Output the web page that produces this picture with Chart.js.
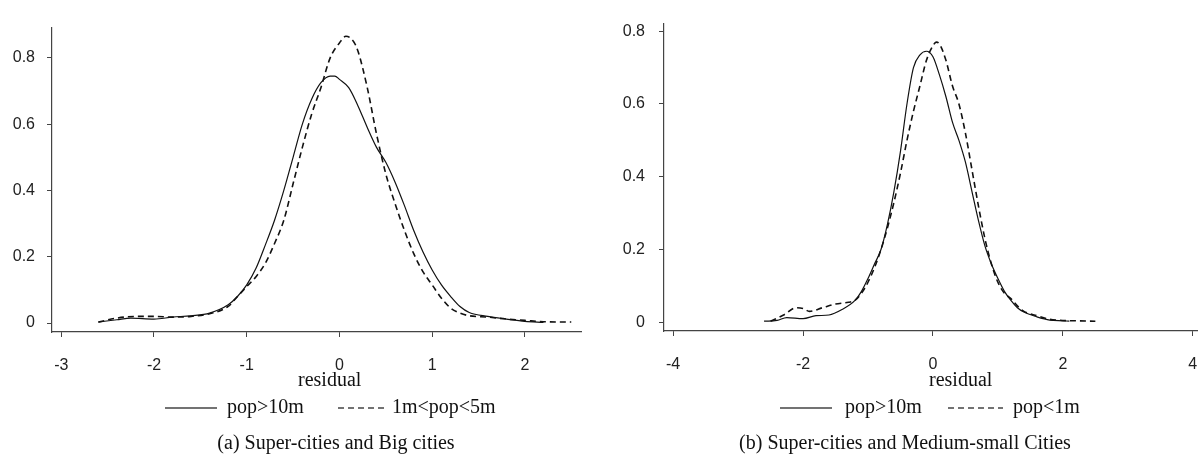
<!DOCTYPE html>
<html>
<head>
<meta charset="utf-8">
<script src="https://cdn.jsdelivr.net/npm/chart.js@4/dist/chart.umd.min.js"></script>
<style>
  html, body { margin: 0; padding: 0; background: #fff; }
  #wrap { position: relative; width: 1198px; height: 458px; overflow: hidden; }
  .panel { position: absolute; top: 0; height: 458px; }
</style>
</head>
<body>
<div id="wrap">
  <div class="panel" style="left:0;width:600px"><canvas id="chartA"></canvas></div>
  <div class="panel" style="left:600px;width:598px"><canvas id="chartB"></canvas></div>
</div>
<script>
// ---- data: panel (a) ----
const aSolidX = [-2.6, -2.4, -2.25, -2.0, -1.8, -1.6, -1.4, -1.2, -1.1, -1.0, -0.9, -0.8, -0.7, -0.6, -0.5, -0.4, -0.3, -0.2, -0.1, -0.05, 0, 0.1, 0.2, 0.3, 0.4, 0.5, 0.6, 0.7, 0.8, 0.9, 1.0, 1.1, 1.2, 1.3, 1.4, 1.6, 1.8, 2.0, 2.2];
const aSolidY = [0.003, 0.01, 0.015, 0.012, 0.018, 0.022, 0.03, 0.055, 0.08, 0.115, 0.165, 0.235, 0.31, 0.4, 0.5, 0.6, 0.675, 0.725, 0.745, 0.745, 0.735, 0.71, 0.655, 0.59, 0.53, 0.485, 0.425, 0.355, 0.28, 0.215, 0.16, 0.115, 0.08, 0.05, 0.032, 0.02, 0.012, 0.005, 0.002];
const aDashX = [-2.6, -2.4, -2.2, -2.0, -1.8, -1.6, -1.4, -1.2, -1.1, -1.0, -0.9, -0.8, -0.7, -0.6, -0.5, -0.4, -0.3, -0.2, -0.1, 0, 0.07, 0.15, 0.2, 0.3, 0.4, 0.5, 0.6, 0.7, 0.8, 0.9, 1.0, 1.1, 1.2, 1.3, 1.4, 1.6, 1.8, 2.0, 2.2, 2.5];
const aDashY = [0.003, 0.015, 0.02, 0.02, 0.018, 0.02, 0.028, 0.05, 0.08, 0.11, 0.14, 0.18, 0.24, 0.31, 0.42, 0.53, 0.63, 0.71, 0.8, 0.845, 0.865, 0.85, 0.82, 0.71, 0.57, 0.45, 0.36, 0.28, 0.21, 0.155, 0.115, 0.075, 0.045, 0.03, 0.022, 0.018, 0.012, 0.008, 0.004, 0.003];
const aXTicks = [-3, -2, -1, 0, 1, 2];
const aYTicks = [0, 0.2, 0.4, 0.6, 0.8];
const aLabels = ["pop>10m", "1m<pop<5m"];
const aCaption = "(a) Super-cities and Big cities";

// ---- data: panel (b) ----
const bSolidX = [-2.6, -2.4, -2.25, -2.0, -1.8, -1.6, -1.4, -1.2, -1.1, -1.0, -0.9, -0.8, -0.7, -0.6, -0.5, -0.4, -0.3, -0.2, -0.1, 0, 0.1, 0.2, 0.3, 0.4, 0.5, 0.6, 0.7, 0.8, 0.9, 1.0, 1.1, 1.2, 1.3, 1.4, 1.6, 1.8, 2.0, 2.1];
const bSolidY = [0.003, 0.005, 0.013, 0.01, 0.018, 0.02, 0.035, 0.06, 0.085, 0.12, 0.16, 0.2, 0.27, 0.36, 0.47, 0.6, 0.7, 0.735, 0.745, 0.73, 0.68, 0.62, 0.55, 0.5, 0.44, 0.36, 0.28, 0.21, 0.16, 0.12, 0.085, 0.06, 0.04, 0.028, 0.015, 0.006, 0.004, 0.003];
const bDashX = [-2.5, -2.3, -2.1, -2.0, -1.9, -1.7, -1.5, -1.3, -1.2, -1.1, -1.0, -0.9, -0.8, -0.7, -0.6, -0.5, -0.4, -0.3, -0.2, -0.1, 0, 0.05, 0.1, 0.2, 0.3, 0.4, 0.5, 0.6, 0.7, 0.8, 0.9, 1.0, 1.1, 1.2, 1.3, 1.4, 1.6, 1.8, 2.0, 2.2, 2.5];
const bDashY = [0.003, 0.02, 0.04, 0.038, 0.03, 0.04, 0.05, 0.055, 0.06, 0.08, 0.11, 0.15, 0.2, 0.26, 0.33, 0.41, 0.5, 0.58, 0.65, 0.72, 0.76, 0.77, 0.765, 0.72, 0.65, 0.6, 0.52, 0.42, 0.32, 0.23, 0.16, 0.11, 0.08, 0.065, 0.045, 0.03, 0.018, 0.008, 0.005, 0.004, 0.003];
const bXTicks = [-4, -2, 0, 2, 4];
const bYTicks = [0, 0.2, 0.4, 0.6, 0.8];
const bLabels = ["pop>10m", "pop<1m"];
const bCaption = "(b) Super-cities and Medium-small Cities";

const xTitle = "residual";
const DASH = [6, 4];
const serif = '"Liberation Serif", "Times New Roman", serif';

function pts(xs, ys) {
  return xs.map((x, i) => ({ x: x, y: ys[i] }));
}

// draws axis title, legend and caption below the plot
const textPlugin = {
  id: "texts",
  afterDraw(chart, args, o) {
    const ctx = chart.ctx;
    ctx.save();
    ctx.fillStyle = "#111";
    ctx.font = "20px " + serif;
    ctx.textBaseline = "alphabetic";
    ctx.textAlign = "left";
    ctx.fillText(xTitle, o.titleX, 386);

    ctx.strokeStyle = "#444";
    ctx.lineWidth = 1.3;
    ctx.beginPath();
    ctx.moveTo(o.leg[0], 408);
    ctx.lineTo(o.leg[1], 408);
    ctx.stroke();
    ctx.fillText(o.labels[0], o.leg[2], 413);

    ctx.setLineDash(DASH);
    ctx.beginPath();
    ctx.moveTo(o.leg[3], 408);
    ctx.lineTo(o.leg[4], 408);
    ctx.stroke();
    ctx.setLineDash([]);
    ctx.fillText(o.labels[1], o.leg[5], 413);

    ctx.textAlign = "center";
    ctx.fillText(o.caption, o.capX, 449);
    ctx.restore();
  },
};

function makeChart(id, cfg) {
  const ctx = document.getElementById(id).getContext("2d");
  return new Chart(ctx, {
    type: "scatter",
    data: {
      datasets: [
        {
          label: cfg.labels[0],
          data: pts(cfg.solidX, cfg.solidY),
          showLine: true,
          borderColor: "#111",
          borderWidth: 1.2,
          pointRadius: 0,
          cubicInterpolationMode: "monotone",
        },
        {
          label: cfg.labels[1],
          data: pts(cfg.dashX, cfg.dashY),
          showLine: true,
          borderColor: "#111",
          borderWidth: 1.6,
          borderDash: DASH,
          pointRadius: 0,
          cubicInterpolationMode: "monotone",
        },
      ],
    },
    options: {
      responsive: true,
      maintainAspectRatio: false,
      animation: false,
      events: [],
      layout: { padding: { top: cfg.top, right: cfg.right, bottom: 0, left: 0 } },
      plugins: {
        legend: { display: false },
        tooltip: { enabled: false },
        texts: cfg.texts,
      },
      scales: {
        x: {
          type: "linear",
          min: cfg.xMin,
          max: cfg.xMax,
          afterBuildTicks: (s) => { s.ticks = cfg.xTicks.map((v) => ({ value: v })); },
          afterFit: (s) => { s.height = 458 - cfg.bottom; },
          ticks: {
            padding: 0,
            color: "#222",
            font: { family: '"Liberation Sans", Arial, sans-serif', size: 16 },
            maxRotation: 0,
            // empty first line pushes the number down like R's axis labels
            callback: (v) => ["", String(v)],
          },
          grid: { drawOnChartArea: false, drawTicks: true, tickLength: 5, color: "#444" },
          border: { display: true, color: "#444", width: 1.2 },
        },
        y: {
          type: "linear",
          min: cfg.yMin,
          max: cfg.yMax,
          afterBuildTicks: (s) => { s.ticks = cfg.yTicks.map((v) => ({ value: v })); },
          afterFit: (s) => { s.width = cfg.left; },
          ticks: {
            padding: cfg.yPad,
            color: "#222",
            font: { family: '"Liberation Sans", Arial, sans-serif', size: 16 },
            callback: (v) => String(v),
          },
          grid: { drawOnChartArea: false, drawTicks: true, tickLength: 5, color: "#444" },
          border: { display: true, color: "#444", width: 1.2 },
        },
      },
    },
    plugins: [textPlugin],
  });
}

makeChart("chartA", {
  solidX: aSolidX, solidY: aSolidY, dashX: aDashX, dashY: aDashY,
  labels: aLabels, xTicks: aXTicks, yTicks: aYTicks,
  xMin: -3.1, xMax: 2.605, yMin: -0.027, yMax: 0.89,
  left: 52, top: 28, right: 19, bottom: 332, yPad: 12,
  texts: { titleX: 298, leg: [165, 217, 227, 338, 387, 392], labels: aLabels, caption: aCaption, capX: 336 },
});

makeChart("chartB", {
  solidX: bSolidX, solidY: bSolidY, dashX: bDashX, dashY: bDashY,
  labels: bLabels, xTicks: bXTicks, yTicks: bYTicks,
  xMin: -4.14, xMax: 4.08, yMin: -0.024, yMax: 0.821,
  left: 64, top: 11, right: 0, bottom: 331, yPad: 14,
  texts: { titleX: 329, leg: [180, 232, 245, 348, 403, 413], labels: bLabels, caption: bCaption, capX: 305 },
});
</script>
</body>
</html>
